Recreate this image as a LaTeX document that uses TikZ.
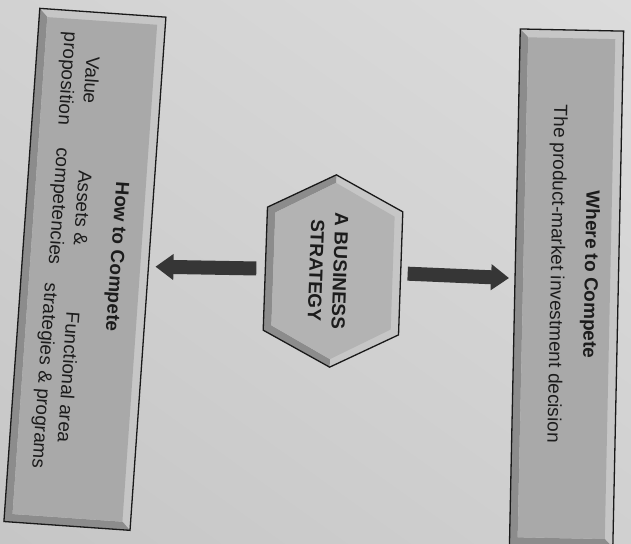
\documentclass[tikz,border=0pt]{standalone}
\usepackage{fontspec}
\setmainfont{Liberation Sans}
\usetikzlibrary{arrows.meta,calc,shadings}

\definecolor{paperA}{HTML}{D2D2D2}
\definecolor{paperB}{HTML}{DCDCDC}
\definecolor{paperC}{HTML}{C6C6C6}
\definecolor{paperD}{HTML}{D0D0D0}
\definecolor{panelfill}{HTML}{A9A9A9}
\definecolor{hexfill}{HTML}{B3B3B3}
\definecolor{bevellight}{HTML}{C6C6C6}
\definecolor{beveldark}{HTML}{8C8C8C}
\definecolor{arrowgray}{HTML}{363636}
\definecolor{inkgray}{HTML}{1C1C1C}

\newcommand{\hexpath}[1]{(#1.west) -- ($(#1.north west)!0.18!(#1.north east)$) -- ($(#1.north west)!0.82!(#1.north east)$) -- (#1.east) -- ($(#1.south west)!0.82!(#1.south east)$) -- ($(#1.south west)!0.18!(#1.south east)$) -- cycle}

\tikzset{
  panel/.style={rectangle, inner sep=0pt, fill=bevellight},
  panel inner/.style={rectangle, inner sep=0pt, fill=panelfill},
  hexbox/.style={rectangle, inner sep=0pt},
  frame/.style={draw=black!90, line width=1.3pt, line join=miter},
  heading/.style={font=\bfseries\fontsize{19}{24}\selectfont, text=inkgray, align=center},
  body/.style={font=\fontsize{19}{23.5}\selectfont, text=inkgray, align=center},
  bigarrow/.style={draw=arrowgray, line width=14pt, -{Triangle[width=25pt, length=18pt]}}
}

\begin{document}
\begin{tikzpicture}[x=1pt, y=1pt]
\useasboundingbox (0,0) rectangle (631,-543);
\shade[upper left=paperA, upper right=paperB, lower left=paperC, lower right=paperD] (0,0) rectangle (631,-543);

\begin{scope}[shift={(333,-271)}, rotate=-92, transform shape]

% where to compete
\begin{scope}[rotate around={0.8:(9,234)}]
\node[panel, minimum width=516, minimum height=103] (where) at (9,234) {};
\node[panel inner, minimum width=500, minimum height=87] (whereIn) at (where) {};
\fill[beveldark] (where.south west) -- (where.south east) -- (where.north east) -- (whereIn.north east) -- (whereIn.south east) -- (whereIn.south west) -- cycle;
\draw[frame] (where.south west) -- (where.south east) -- (where.north east) -- (where.north west) -- cycle;
\node[heading] (whereTitle) at (-5,257) {Where to Compete};
\node[body] (whereText) at (-5,223) {The product-market investment decision};
\end{scope}

% how to compete
\begin{scope}[rotate around={-2:(7,-248)}]
\node[panel, minimum width=514, minimum height=126] (how) at (7,-248) {};
\node[panel inner, minimum width=498, minimum height=110] (howIn) at (how) {};
\fill[beveldark] (how.south west) -- (how.south east) -- (how.north east) -- (howIn.north east) -- (howIn.south east) -- (howIn.south west) -- cycle;
\draw[frame] (how.south west) -- (how.south east) -- (how.north east) -- (how.north west) -- cycle;
\node[heading] (howTitle) at (-8,-218) {How to Compete};
\node[body] (value) at (-182,-268) {Value\\proposition};
\node[body] (assets) at (-54,-268) {Assets \&\\competencies};
\node[body] (functional) at (116,-270) {Functional area\\strategies \& programs};
\end{scope}

% business strategy
\node[hexbox, minimum width=192, minimum height=135] (strategy) at (0,0) {};
\node[hexbox, minimum width=176, minimum height=119] (strategyIn) at (0,0) {};
\fill[bevellight] \hexpath{strategy};
\fill[beveldark] (strategy.west) -- ($(strategy.south west)!0.18!(strategy.south east)$) -- ($(strategy.south west)!0.82!(strategy.south east)$) -- (strategy.east) -- (strategyIn.east) -- ($(strategyIn.south west)!0.82!(strategyIn.south east)$) -- ($(strategyIn.south west)!0.18!(strategyIn.south east)$) -- (strategyIn.west) -- cycle;
\fill[hexfill] \hexpath{strategyIn};
\draw[frame] \hexpath{strategy};
\node[heading] (strategyText) at (0,-5) {A BUSINESS\\STRATEGY};

\draw[bigarrow, shorten <=7pt, shorten >=6pt] (strategy.north) -- ($(where.south west)!0.483!(where.south east)$);
\draw[bigarrow, shorten <=9pt, shorten >=7pt] (strategy.south) -- ($(how.north west)!0.486!(how.north east)$);

\end{scope}
\end{tikzpicture}
\end{document}
